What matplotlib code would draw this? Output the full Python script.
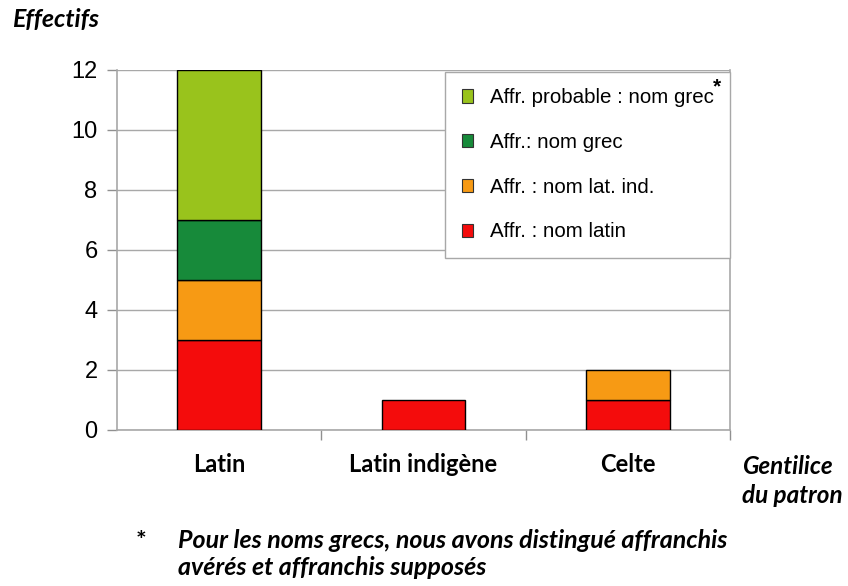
import numpy as np
import matplotlib
matplotlib.use("Agg")
import matplotlib.pyplot as plt
from matplotlib.patches import Patch

# ---- data ----
categories = ["Latin", "Latin indigène", "Celte"]
nom_latin = [3, 1, 1]
nom_lat_ind = [2, 0, 1]
nom_grec = [2, 0, 0]
probable_grec = [5, 0, 0]
series_labels = ["Affr. : nom latin", "Affr. : nom lat. ind.",
                 "Affr.: nom grec", "Affr. probable : nom grec"]
COLS = ["#F40C0C", "#F79A14", "#178A3A", "#99C31C"]
yticks = [0, 2, 4, 6, 8, 10, 12]

W, H = 848, 586
fig = plt.figure(figsize=(W / 100, H / 100), dpi=100)
ax = fig.add_axes([117 / W, 1 - 430 / H, (730 - 117) / W, (430 - 70) / H])

x = np.arange(len(categories))
bottom = np.zeros(len(categories))
for vals, col, lab in zip([nom_latin, nom_lat_ind, nom_grec, probable_grec], COLS, series_labels):
    v = np.array(vals, dtype=float)
    m = v > 0
    ax.bar(x[m], v[m], 0.41, bottom=bottom[m], color=col, edgecolor="black",
           linewidth=1.0, zorder=3)
    bottom += v

ax.set_xlim(-0.5, 2.5)
ax.set_ylim(0, 12)
ax.set_yticks(yticks)
ax.set_yticklabels([str(t) for t in yticks], fontsize=17, family="Liberation Sans")
ax.yaxis.grid(True, color="#A8A8A8", lw=1.0, zorder=0)
ax.set_xticks([0.5, 1.5, 2.5])
ax.set_xticklabels([])
ax.tick_params(axis="both", color="#909090", length=7, width=1)
ax.tick_params(axis="y", pad=7)
for s in ["left", "bottom", "right"]:
    ax.spines[s].set_color("#A8A8A8")
    ax.spines[s].set_linewidth(1.2)
ax.spines["top"].set_visible(False)

# category labels
for i, c in enumerate(categories):
    ax.text(i, -1.15, c, ha="center", va="center", fontsize=17, fontweight="bold",
            family="Lato")

# legend
handles = [Patch(facecolor=COLS[k], edgecolor="#333333", linewidth=0.8, label=series_labels[k])
           for k in [3, 2, 1, 0]]
leg = ax.legend(handles=handles, loc="upper right", bbox_to_anchor=(1.0, 0.995),
                prop={"family": "Liberation Sans", "size": 14.8}, frameon=True, fancybox=False,
                framealpha=1, edgecolor="#A8A8A8", handlelength=0.55, handleheight=0.6,
                handletextpad=0.8, labelspacing=1.25, borderpad=0.8, borderaxespad=0)
leg.get_frame().set_linewidth(1.0)
leg.set_zorder(5)
fig.text(717 / W, 1 - 87 / H, "*", fontsize=15, fontweight="bold", ha="center", va="center",
         family="Liberation Sans", zorder=6)

# titles / notes
fig.text(12 / W, 1 - 20 / H, "Effectifs", fontsize=18, fontweight="bold", style="italic",
         family="Lato", ha="left", va="center")
fig.text(742 / W, 1 - 481 / H, "Gentilice\ndu patron", fontsize=17.5, fontweight="bold",
         style="italic", family="Lato", ha="left", va="center", linespacing=1.3)
fig.text(141 / W, 1 - 541 / H, "*", fontsize=18, fontweight="bold", family="Lato",
         ha="center", va="center")
fig.text(178 / W, 1 - 554 / H,
         "Pour les noms grecs, nous avons distingué affranchis\navérés et affranchis supposés",
         fontsize=18, fontweight="bold", style="italic", family="Lato", ha="left",
         va="center", linespacing=1.25)

fig.savefig("out.png", dpi=100)
